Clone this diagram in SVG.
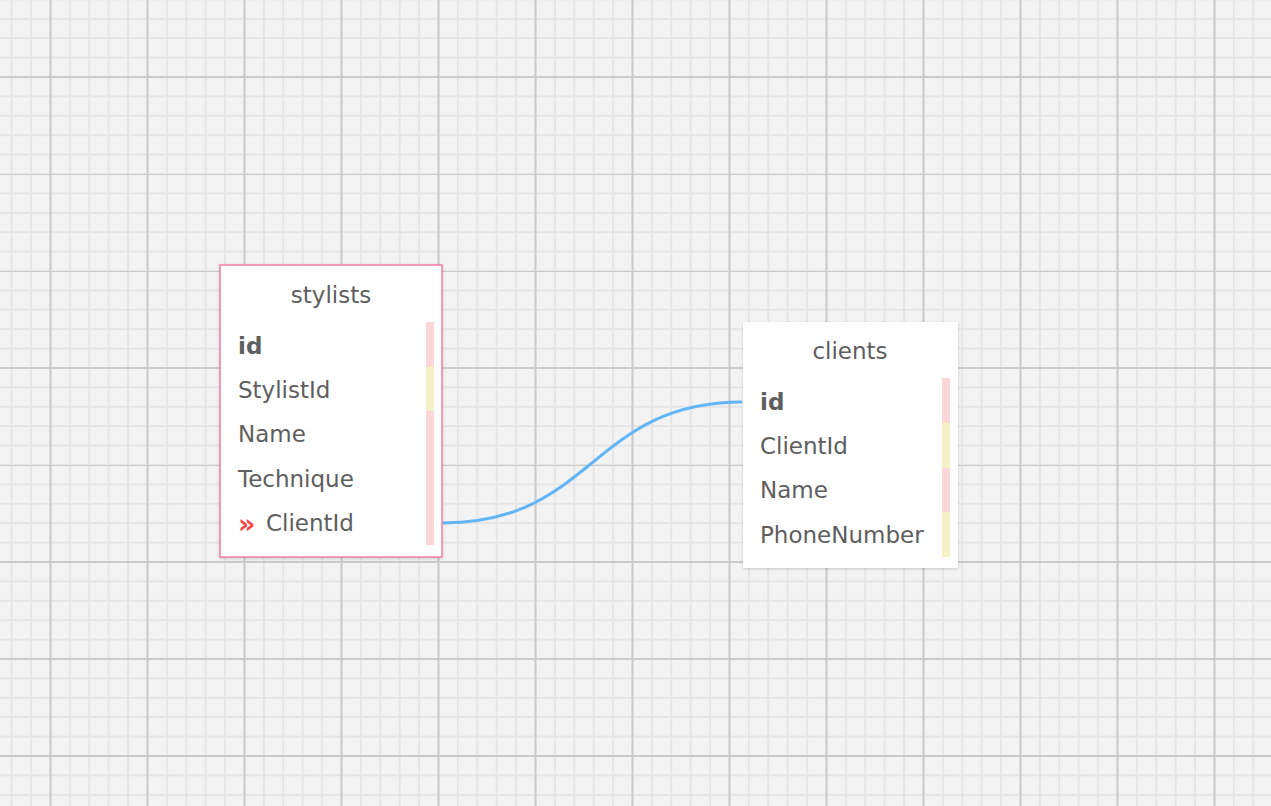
<svg xmlns="http://www.w3.org/2000/svg" width="1271" height="806" viewBox="0 0 1271 806">
<style>
.t{font-family:"DejaVu Sans","Liberation Sans",sans-serif;font-size:23px;fill:#5e5e5e}
.title{text-anchor:middle}
.b{font-weight:bold}
.pk{fill:#fdd7d8}
.yl{fill:#f4f2c4}
</style>
<defs>
<pattern id="minor" patternUnits="userSpaceOnUse" x="49.5" y="76" width="19.4" height="19.4">
<path d="M0 1H19.4M1 0V19.4" stroke="#e5e5e5" stroke-width="2" fill="none"/>
</pattern>
<pattern id="major" patternUnits="userSpaceOnUse" x="49.5" y="76" width="97" height="97">
<path d="M0 1H97M1 0V97" stroke="#cbcbcb" stroke-width="2" fill="none"/>
</pattern>
<filter id="sh" x="-10%" y="-10%" width="120%" height="120%">
<feDropShadow dx="0" dy="1" stdDeviation="1.5" flood-color="#000" flood-opacity="0.18"/>
</filter>
</defs>
<rect width="1271" height="806" fill="#f3f3f3"/>
<rect width="1271" height="806" fill="url(#minor)"/>
<rect width="1271" height="806" fill="url(#major)"/>
<g id="connectors">
<path d="M443 523 C593 523 592 402 742 402" fill="none" stroke="#64b5f6" stroke-width="3"/>
</g>
<g id="stylists">
<rect x="220" y="265" width="222" height="292" fill="#fff" stroke="#f47ea4" stroke-width="1.5" filter="url(#sh)"/>
<text class="t title" x="331" y="303">stylists</text>
<rect class="pk" x="426" y="322" width="8" height="45"/>
<rect class="yl" x="426" y="367" width="8" height="44"/>
<rect class="pk" x="426" y="411" width="8" height="134"/>
<text class="t b" x="238" y="354">id</text>
<text class="t" x="238" y="398">StylistId</text>
<text class="t" x="238" y="442">Name</text>
<text class="t" x="238" y="487">Technique</text>
<text x="238" y="533" font-family="'DejaVu Sans',sans-serif" font-size="27" font-weight="bold" fill="#f44848">»</text>
<text class="t" x="266" y="531">ClientId</text>
</g>
<g id="clients">
<rect x="743" y="322" width="215" height="246" fill="#fff" filter="url(#sh)"/>
<text class="t title" x="850" y="359">clients</text>
<rect class="pk" x="942" y="378" width="8" height="45"/>
<rect class="yl" x="942" y="423" width="8" height="45"/>
<rect class="pk" x="942" y="468" width="8" height="44"/>
<rect class="yl" x="942" y="512" width="8" height="45"/>
<text class="t b" x="760" y="410">id</text>
<text class="t" x="760" y="454">ClientId</text>
<text class="t" x="760" y="498">Name</text>
<text class="t" x="760" y="543">PhoneNumber</text>
</g>
</svg>
